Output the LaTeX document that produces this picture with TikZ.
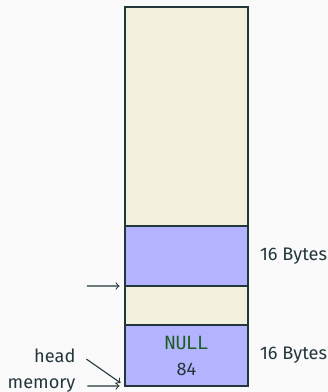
\documentclass[tikz,border=0pt]{standalone}
\usepackage{fontspec}
\setmainfont{Fira Sans}
\setmonofont{DejaVu Sans Mono}
\usetikzlibrary{positioning}
\definecolor{mDark}{HTML}{23373B}
\definecolor{mBg}{HTML}{FAFAFA}
\definecolor{freeClr}{HTML}{F3F0DE}
\definecolor{usedClr}{HTML}{B3B3FF}
\definecolor{nullClr}{HTML}{1B5E20}

\begin{document}
\begin{tikzpicture}[>=to, x=0.55pt, y=0.55pt, line width=0.6pt,
    cell/.style={draw=mDark, line width=0.7pt, minimum width=67.65pt, inner sep=0pt, outer sep=0pt},
    free/.style={cell, fill=freeClr},
    used/.style={cell, fill=usedClr},
    txt/.style={text=mDark, font=\fontsize{10}{14.3}\selectfont}]
            \fill[mBg] (0, 0) rectangle (328, 392);
            \useasboundingbox (0, 0) rectangle (328, 392);
            % heap cells, top to bottom
            \node[free, minimum height=120.45pt] (top)  at (186.5, 275.5) {};
            \node[used, minimum height=33pt]     (blk1) at (186.5, 136)   {};
            \node[free, minimum height=21.45pt]  (gap)  at (186.5, 86.5)  {};
            \node[used, minimum height=33.55pt, txt, align=center] (blk0) at (186.5, 36.5)
                {{\color{nullClr}\texttt{NULL}}\\84};
            % sizes
            \node[txt, right=3pt of blk1] (sz1) {16 Bytes};
            \node[txt, right=3pt of blk0] (sz0) {16 Bytes};
            % pointers
            \node[txt, anchor=east] (head) at (82, 36) {head};
            \node[txt, anchor=east] (mem)  at (82, 6)  {memory};
            \coordinate (ptr) at (87, 106);
            \path[->, mDark, shorten >=3pt]
                (ptr)       edge (blk1.south west)
                (head.east) edge[shorten <=3pt] (blk0.south west)
                (mem.east)  edge[shorten <=3pt] (blk0.south west)
            ;
        \end{tikzpicture}
\end{document}
